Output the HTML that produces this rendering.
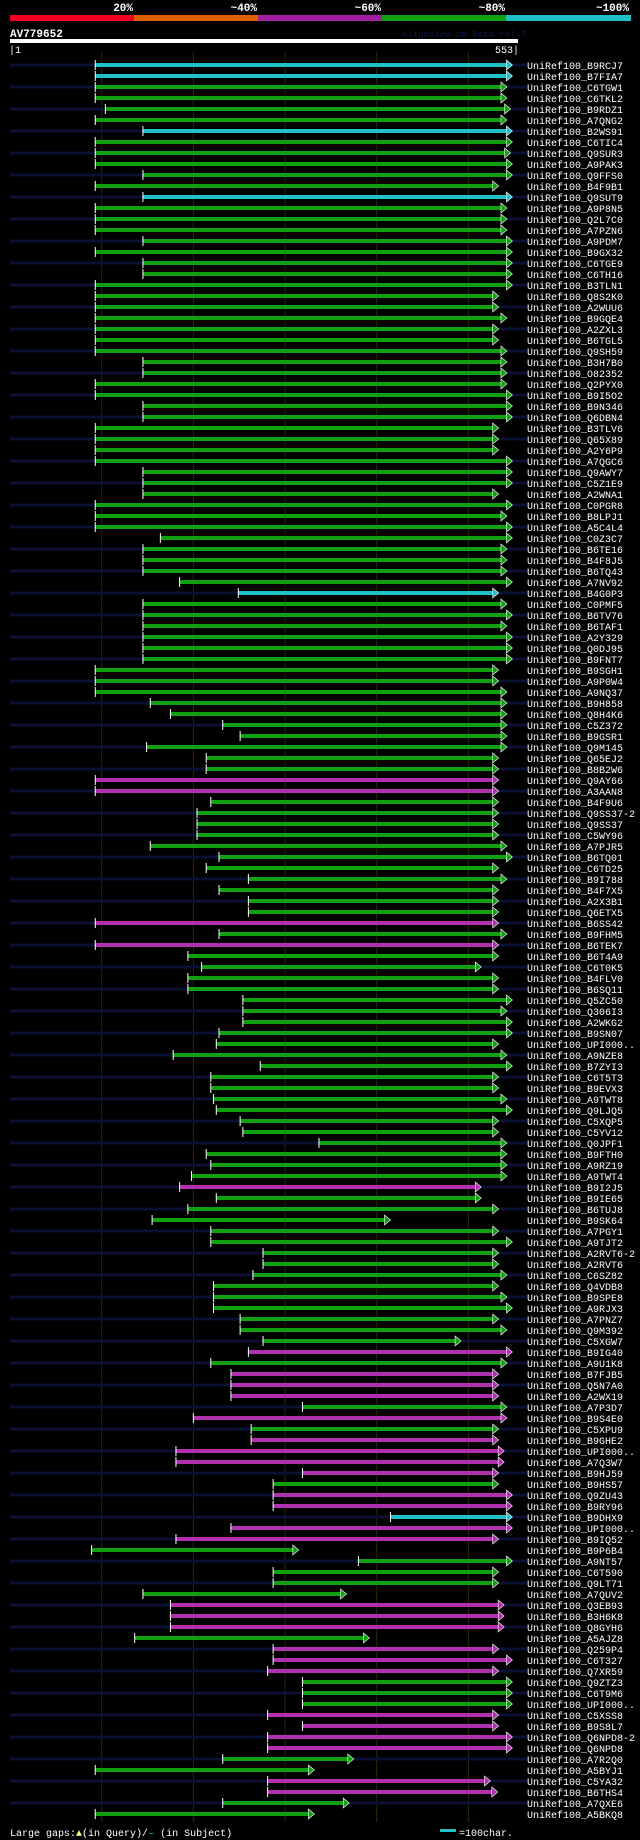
<!DOCTYPE html>
<html><head><meta charset="utf-8"><style>
html,body{margin:0;padding:0;background:#000;}
svg{display:block;}
text{font-family:"Liberation Mono",monospace;fill:#fff;}
</style></head><body>
<svg id="chart" width="640" height="1840" viewBox="0 0 640 1840" xmlns="http://www.w3.org/2000/svg">
<rect x="0" y="0" width="640" height="1840" fill="#000"/>
<g>
<rect x="10" y="15" width="124" height="6" fill="#f0001e"/>
<rect x="134" y="15" width="124" height="6" fill="#e06000"/>
<rect x="258" y="15" width="124" height="6" fill="#a020a0"/>
<rect x="382" y="15" width="124" height="6" fill="#10a010"/>
<rect x="506" y="15" width="125" height="6" fill="#20c0c8"/>
<text x="133" y="11" text-anchor="end" font-size="11" font-weight="bold">20%</text>
<text x="257" y="11" text-anchor="end" font-size="11" font-weight="bold">~40%</text>
<text x="381" y="11" text-anchor="end" font-size="11" font-weight="bold">~60%</text>
<text x="505" y="11" text-anchor="end" font-size="11" font-weight="bold">~80%</text>
<text x="629" y="11" text-anchor="end" font-size="11" font-weight="bold">~100%</text>
</g>
<text x="10" y="37" font-size="11" font-weight="bold">AV779652</text>
<text x="402" y="37" font-size="9" style="fill:#101848">AlignView.pm Beta rel.7</text>
<rect x="10" y="39" width="508" height="4" fill="#fff"/>
<text x="9" y="53" font-size="10">|1</text>
<text x="519" y="53" font-size="10" text-anchor="end">553|</text>
<g id="grid"></g>
<g id="rows"></g>
<g>
<text x="10" y="1836" font-size="10">Large gaps:<tspan style="fill:#ffff80">▲</tspan>(in Query)/<tspan style="fill:#20c0c8">–</tspan> (in Subject)</text>
<rect x="440" y="1829" width="16" height="3" fill="#20c0c8"/>
<text x="459" y="1836" font-size="10">=100char.</text>
</g>
</svg>
<script>
const queryLength = 553;
const gridTicks = [100, 200, 300, 400, 500];
const hitLabels = ["B9RCJ7","B7FIA7","C6TGW1","C6TKL2","B9RDZ1","A7QNG2","B2WS91","C6TIC4","Q9SUR3","A9PAK3","Q9FFS0","B4F9B1","Q9SUT9","A9P8N5","Q2L7C0","A7PZN6","A9PDM7","B9GX32","C6TGE9","C6TH16","B3TLN1","Q8S2K0","A2WUU6","B9GQE4","A2ZXL3","B6TGL5","Q9SH59","B3H7B0","O82352","Q2PYX0","B9I5O2","B9N346","Q6DBN4","B3TLV6","Q65X89","A2Y6P9","A7QGC6","Q9AWY7","C5Z1E9","A2WNA1","C0PGR8","B8LPJ1","A5C4L4","C0Z3C7","B6TE16","B4F8J5","B6TQ43","A7NV92","B4G0P3","C0PMF5","B6TV76","B6TAF1","A2Y329","Q0DJ95","B9FNT7","B9SGH1","A9P0W4","A9NQ37","B9H858","Q8H4K6","C5Z372","B9GSR1","Q9M145","Q65EJ2","B8B2W6","Q9AY66","A3AAN8","B4F9U6","Q9SS37-2","Q9SS37","C5WY96","A7PJR5","B6TQ01","C6TD25","B9I788","B4F7X5","A2X3B1","Q6ETX5","B6SS42","B9FHM5","B6TEK7","B6T4A9","C6T0K5","B4FLV0","B6SQ11","Q5ZC50","Q306I3","A2WKG2","B9SN07","UPI000..","A9NZE8","B7ZYI3","C6T5T3","B9EVX3","A9TWT8","Q9LJQ5","C5XQP5","C5YV12","Q0JPF1","B9FTH0","A9RZ19","A9TWT4","B9I2J5","B9IE65","B6TUJ8","B9SK64","A7PGY1","A9TJT2","A2RVT6-2","A2RVT6","C6SZ82","Q4VDB8","B9SPE8","A9RJX3","A7PNZ7","Q9M392","C5XGW7","B9IG40","A9U1K8","B7FJB5","Q5N7A0","A2WX19","A7P3D7","B9S4E0","C5XPU9","B9GHE2","UPI000..","A7Q3W7","B9HJ59","B9HS57","Q9ZU43","B9RY96","B9DHX9","UPI000..","B9IQ52","B9P6B4","A9NT57","C6T590","Q9LT71","A7QUV2","Q3EB93","B3H6K8","Q8GYH6","A5AJZ8","Q259P4","C6T327","Q7XR59","Q9ZTZ3","C6T9M6","UPI000..","C5XSS8","B9S8L7","Q6NPD8-2","Q6NPD8","A7R2Q0","A5BYJ1","C5YA32","B6THS4","A7QXE6","A5BKQ8"];
const hitStarts = [93,93,93,93,104,93,145,93,93,93,145,93,145,93,93,93,145,93,145,145,93,93,93,93,93,93,93,145,145,93,93,145,145,93,93,93,93,145,145,145,93,93,93,164,145,145,145,185,249,145,145,145,145,145,145,93,93,93,153,175,232,251,149,214,214,93,93,219,204,204,204,153,228,214,260,228,260,260,93,228,93,194,209,194,194,254,254,254,228,225,178,273,219,219,222,225,251,254,337,214,219,198,185,225,194,155,219,219,276,276,265,222,222,222,251,251,276,260,219,241,241,241,319,200,263,263,181,181,319,287,287,287,415,241,181,89,380,287,287,145,175,175,175,136,287,287,281,319,319,319,281,319,281,281,232,93,281,281,232,93];
const hitEnds = [548,548,542,542,546,542,548,548,546,548,548,533,548,542,542,542,548,548,548,548,548,533,533,542,533,533,542,542,542,542,548,548,548,533,533,533,548,548,548,533,548,542,548,548,542,542,542,548,533,542,548,542,548,548,548,533,533,542,542,542,542,542,542,533,533,533,533,533,533,533,533,542,548,533,542,533,533,533,533,542,533,533,514,533,533,548,542,548,548,533,542,548,533,533,542,548,533,533,542,542,542,542,514,514,533,415,533,548,533,533,542,533,542,548,533,542,492,548,542,533,533,533,542,542,533,533,539,539,533,533,548,548,548,548,533,315,548,533,533,367,539,539,539,392,533,548,533,548,548,548,533,533,548,548,375,332,524,532,370,332];
const cyanRows = [0,1,6,12,48,132];
const magentaRows = [65,66,78,80,102,117,119,120,121,123,125,126,127,128,130,131,133,134,140,141,142,144,145,146,150,151,152,153,156,157];
const palette = {c:"#20c0c8", g:"#10a010", m:"#b030b0"};
const NS = "http://www.w3.org/2000/svg";
const x0 = 10, x1 = 517;
function xScale(r){ return x0 + (r / queryLength) * (x1 - x0); }
function yRow(i){ return 65 + i * 11; }
function rowColor(i){ return cyanRows.indexOf(i) >= 0 ? palette.c : (magentaRows.indexOf(i) >= 0 ? palette.m : palette.g); }
const grid = document.getElementById('grid');
gridTicks.forEach(function(t){
  const l = document.createElementNS(NS,'line');
  l.setAttribute('x1', xScale(t)); l.setAttribute('x2', xScale(t));
  l.setAttribute('y1', 52); l.setAttribute('y2', 1822);
  l.setAttribute('stroke', '#2a2a08'); l.setAttribute('stroke-width', '1');
  
  
  grid.appendChild(l);
});
const rows = document.getElementById('rows');
hitLabels.forEach(function(lab, i){
  const y = yRow(i);
  const col = rowColor(i);
  const g = document.createElementNS(NS,'g');
  
  
  if (i % 2 === 0) {
    const bg = document.createElementNS(NS,'rect');
    bg.setAttribute('x', 10); bg.setAttribute('y', y - 1.5);
    bg.setAttribute('width', 517); bg.setAttribute('height', 3);
    bg.setAttribute('fill', '#0b1035');
    
    
    g.appendChild(bg);
  }
  const xs = xScale(hitStarts[i]), xe = xScale(hitEnds[i]);
  const bar = document.createElementNS(NS,'rect');
  bar.setAttribute('x', xs); bar.setAttribute('y', y - 2);
  bar.setAttribute('width', Math.max(0, xe - 5 - xs)); bar.setAttribute('height', 4);
  bar.setAttribute('fill', col);
  
  
  g.appendChild(bar);
  const tick = document.createElementNS(NS,'rect');
  tick.setAttribute('x', xs - 0.5); tick.setAttribute('y', y - 5);
  tick.setAttribute('width', 1); tick.setAttribute('height', 10);
  tick.setAttribute('fill', '#fff');
  
  
  g.appendChild(tick);
  const arr = document.createElementNS(NS,'polygon');
  arr.setAttribute('points', (xe-6)+','+(y-5)+' '+xe+','+y+' '+(xe-6)+','+(y+5));
  arr.setAttribute('fill', col);
  arr.setAttribute('stroke', '#fff'); arr.setAttribute('stroke-width', '0.6');
  
  
  g.appendChild(arr);
  const t = document.createElementNS(NS,'text');
  t.setAttribute('x', 527); t.setAttribute('y', y + 4);
  t.setAttribute('font-size', '10');
  t.textContent = 'UniRef100_' + lab;
  
  
  g.appendChild(t);
  rows.appendChild(g);
});
</script>
</body></html>
